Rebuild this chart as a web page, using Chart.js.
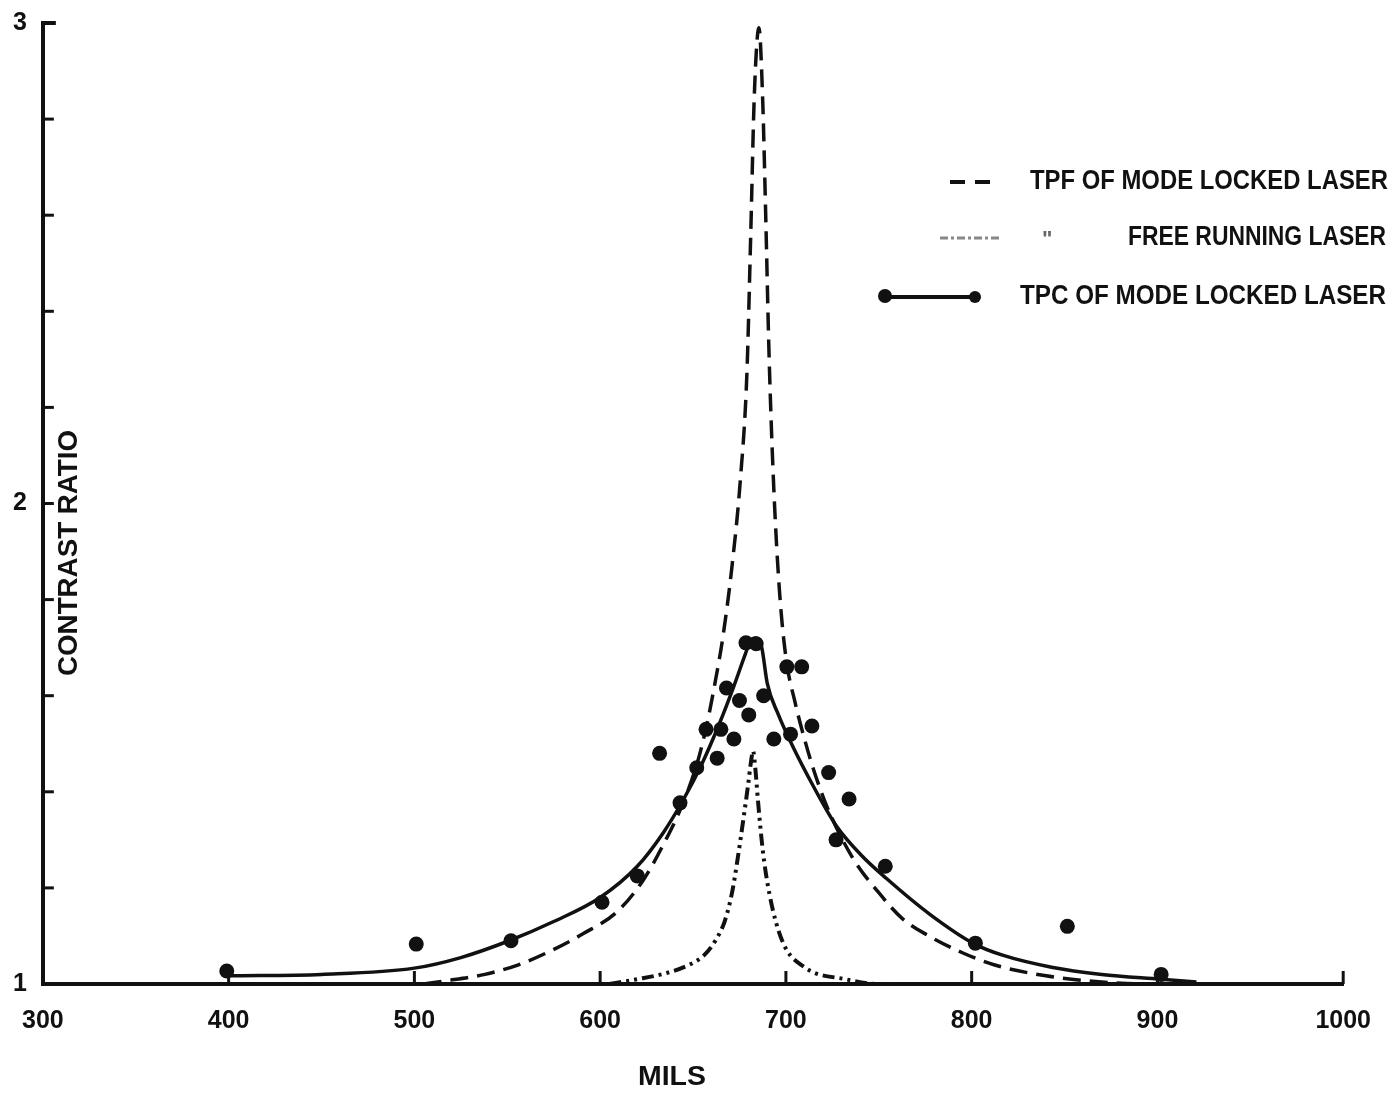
<!DOCTYPE html>
<html>
<head>
<meta charset="utf-8">
<title>Contrast ratio vs mils</title>
<script src="https://cdn.jsdelivr.net/npm/chart.js@4.4.1/dist/chart.umd.min.js"></script>
<style>
  html, body { margin: 0; padding: 0; background: #fff; }
  #wrap { width: 1393px; height: 1094px; }
</style>
</head>
<body>
<div id="wrap"><canvas id="chart" width="1393" height="1094"></canvas></div>
<script>
// --- static chart, no animation ---
Chart.defaults.animation = false;

// TPF of mode locked laser (dashed curve)
const tpfMils  = [505, 516, 538, 556, 574, 591, 609, 623, 634, 645, 653, 658, 662, 666, 671, 675.5, 679, 681, 683, 685.5,
                  687.5, 689, 691, 693.5, 696.5, 700, 705, 710, 715, 722, 736, 750, 763, 777, 795, 812, 840, 870, 890];
const tpfRatio = [1.0, 1.006, 1.02, 1.04, 1.07, 1.105, 1.15, 1.215, 1.29, 1.38, 1.47, 1.55, 1.63, 1.72, 1.87, 2.05, 2.27, 2.55, 2.85, 2.99,
                  2.84, 2.62, 2.3, 2.03, 1.82, 1.68, 1.585, 1.51, 1.445, 1.37, 1.262, 1.19, 1.135, 1.10, 1.065, 1.04, 1.017, 1.004, 1.0];

// free running laser (dash-dot curve)
const freeMils  = [605, 620, 635, 648, 656, 662, 667, 671, 674, 677, 679.5, 681.3, 682.3,
                   683.5, 685, 687.5, 691, 698, 710, 732, 750, 780];
const freeRatio = [1.0, 1.01, 1.022, 1.04, 1.06, 1.09, 1.13, 1.19, 1.26, 1.34, 1.41, 1.465, 1.485,
                   1.45, 1.38, 1.28, 1.19, 1.09, 1.035, 1.01, 1.0, 1.0];

// TPC of mode locked laser (solid fitted curve)
const tpcMils  = [400, 450, 500, 525, 551, 575, 600, 620, 634, 645, 655, 664, 672, 678, 681, 684, 687,
                  690, 696, 703, 715, 727, 740.6, 754, 777.5, 801.6, 816.6, 843, 870, 902, 921];
const tpcRatio = [1.017, 1.02, 1.033, 1.055, 1.09, 1.13, 1.18, 1.245, 1.315, 1.385, 1.46, 1.54, 1.62, 1.685, 1.715, 1.72, 1.70,
                  1.625, 1.56, 1.50, 1.41, 1.33, 1.268, 1.22, 1.145, 1.083, 1.06, 1.035, 1.02, 1.01, 1.004];

// TPC measured points
const measMils  = [399, 501, 552, 601, 620, 632, 643, 652, 657, 663, 665, 668, 672, 675, 678.5,
                   680, 684, 688, 693.5, 700.5, 702.5, 708.5, 714, 723, 727, 734, 753.5, 802, 851.5, 902];
const measRatio = [1.027, 1.083, 1.09, 1.17, 1.225, 1.48, 1.377, 1.45, 1.53, 1.47, 1.53, 1.616, 1.51, 1.59, 1.71,
                   1.56, 1.708, 1.60, 1.51, 1.66, 1.52, 1.66, 1.537, 1.44, 1.30, 1.385, 1.245, 1.085, 1.12, 1.02];

const xTicks = [300, 400, 500, 600, 700, 800, 900, 1000];

const INK = '#111';
const FONT = '"Liberation Sans", Arial, sans-serif';
const DASH_TPF = [18, 9];
const DASH_FREE = [12, 5, 3, 5, 3, 5];

const pts = (xs, ys) => xs.map((x, i) => ({ x, y: ys[i] }));

// text squeezed/stretched to a given width, like the heavy condensed lettering of the original
function fitText(ctx, text, x, y, w, size, rot) {
  ctx.save();
  ctx.font = 'bold ' + size + 'px ' + FONT;
  const m = ctx.measureText(text).width;
  ctx.translate(x, y);
  if (rot) ctx.rotate(rot);
  ctx.scale(w / m, 1);
  ctx.textBaseline = 'middle';
  ctx.textAlign = 'left';
  ctx.fillStyle = INK;
  ctx.fillText(text, 0, 0);
  ctx.restore();
}

function seg(ctx, x1, y1, x2, y2, dash) {
  ctx.setLineDash(dash || []);
  ctx.beginPath(); ctx.moveTo(x1, y1); ctx.lineTo(x2, y2); ctx.stroke();
}

// inward tick marks on both axes
const tickMarks = {
  id: 'tickMarks',
  afterDatasetsDraw(chart) {
    const { ctx, scales: { x, y } } = chart;
    ctx.save();
    ctx.strokeStyle = INK;
    ctx.lineWidth = 3;
    y.ticks.forEach(t => {
      if (t.value < 1.1) return;
      const py = y.getPixelForValue(t.value);
      seg(ctx, x.left, py, x.left + 11, py);
    });
    x.ticks.forEach(t => {
      if (t.value <= 300) return;
      const px = x.getPixelForValue(t.value);
      seg(ctx, px, y.bottom, px, y.bottom - 13);
    });
    ctx.restore();
  }
};

// legend, axis titles
const annotations = {
  id: 'annotations',
  afterDraw(chart) {
    const ctx = chart.ctx;
    ctx.save();
    ctx.strokeStyle = INK;
    ctx.fillStyle = INK;

    // row 1: TPF
    ctx.lineWidth = 4;
    seg(ctx, 950, 182, 990, 182, [15, 10]);
    fitText(ctx, 'TPF OF MODE LOCKED LASER', 1030, 182, 358, 27);

    // row 2: free running (faint sample + ditto mark)
    ctx.strokeStyle = '#888';
    ctx.lineWidth = 3;
    seg(ctx, 940, 238, 1000, 238, [8, 3, 3, 3]);
    ctx.fillStyle = '#666';
    ctx.font = 'bold 22px ' + FONT;
    ctx.textBaseline = 'middle';
    ctx.fillText('"', 1042, 240);
    ctx.strokeStyle = INK;
    fitText(ctx, 'FREE RUNNING LASER', 1128, 238, 258, 27);

    // row 3: TPC
    ctx.lineWidth = 4;
    seg(ctx, 885, 297, 975, 297);
    ctx.fillStyle = INK;
    ctx.beginPath(); ctx.arc(885, 296, 7, 0, Math.PI * 2); ctx.fill();
    ctx.beginPath(); ctx.arc(975, 297, 6, 0, Math.PI * 2); ctx.fill();
    fitText(ctx, 'TPC OF MODE LOCKED LASER', 1020, 297, 366, 27);

    // axis titles
    fitText(ctx, 'MILS', 638, 1077, 68, 28);
    fitText(ctx, 'CONTRAST RATIO', 69, 676, 246, 28, -Math.PI / 2);

    // little cap at the top of the y axis
    const { x, y } = chart.scales;
    ctx.lineWidth = 4;
    seg(ctx, x.left, y.top, x.left + 13, y.top);
    ctx.restore();
  }
};

function makeChart() {
  const ctx = document.getElementById('chart');
  new Chart(ctx, {
    type: 'scatter',
    data: {
      datasets: [
        {
          label: 'TPC measured',
          data: pts(measMils, measRatio),
          showLine: false,
          pointRadius: 7.5,
          pointBackgroundColor: INK,
          pointBorderWidth: 0
        },
        {
          label: 'TPC of mode locked laser',
          data: pts(tpcMils, tpcRatio),
          showLine: true,
          borderColor: INK,
          borderWidth: 3.5,
          pointRadius: 0,
          cubicInterpolationMode: 'monotone'
        },
        {
          label: 'TPF of mode locked laser',
          data: pts(tpfMils, tpfRatio),
          showLine: true,
          borderColor: INK,
          borderWidth: 3.5,
          borderDash: DASH_TPF,
          pointRadius: 0,
          cubicInterpolationMode: 'monotone'
        },
        {
          label: 'Free running laser',
          data: pts(freeMils, freeRatio),
          showLine: true,
          borderColor: INK,
          borderWidth: 4,
          borderDash: DASH_FREE,
          pointRadius: 0,
          cubicInterpolationMode: 'monotone'
        }
      ]
    },
    options: {
      responsive: false,
      animation: false,
      events: [],
      layout: { padding: { top: 23, right: 49, left: 0, bottom: 0 } },
      plugins: {
        legend: { display: false },
        tooltip: { enabled: false }
      },
      scales: {
        x: {
          type: 'linear',
          min: 300,
          max: 1000,
          afterBuildTicks: s => { s.ticks = xTicks.map(v => ({ value: v })); },
          afterFit: s => { s.height = 110; },
          grid: { display: false, drawTicks: false },
          border: { display: true, color: INK, width: 4 },
          ticks: {
            color: INK,
            padding: 22,
            font: { family: FONT, size: 25, weight: 'bold' },
            callback: v => String(v)
          }
        },
        y: {
          min: 1,
          max: 3,
          afterFit: s => { s.width = 38; s.paddingTop = 0; s.paddingBottom = 0; },
          grid: { display: false, drawTicks: false },
          border: { display: true, color: INK, width: 4 },
          ticks: {
            stepSize: 0.2,
            color: INK,
            padding: 16,
            font: { family: FONT, size: 25, weight: 'bold' },
            callback: v => Math.abs(v - Math.round(v)) < 1e-6 ? String(Math.round(v)) : ''
          }
        }
      }
    },
    plugins: [tickMarks, annotations]
  });
}

document.addEventListener('DOMContentLoaded', makeChart);
</script>
</body>
</html>
